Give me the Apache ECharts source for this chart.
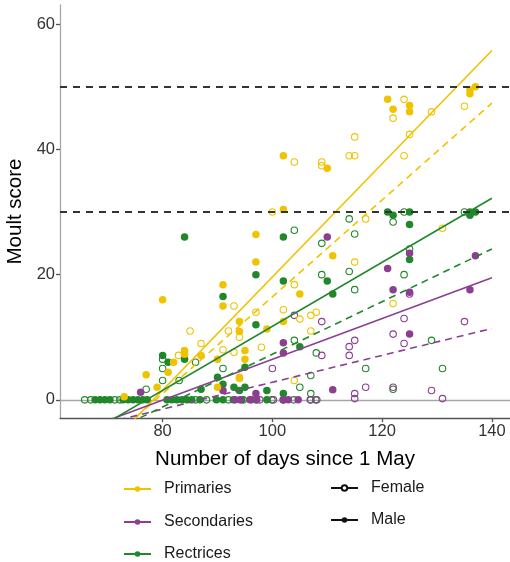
<!DOCTYPE html>
<html>
<head>
<meta charset="utf-8">
<script src="https://cdn.jsdelivr.net/npm/echarts@6/dist/echarts.min.js"></script>
<style>
  html, body { margin: 0; padding: 0; background: #fff; }
  #chart { width: 510px; height: 562px; }
</style>
</head>
<body>
<div id="chart"></div>
<script>
// Moult score against number of days since 1 May, by feather tract and sex.
// Each point is [day, score].

const primariesMale = [
  [73, 0.5], [77, 4], [79, 2], [80, 16], [81, 4.4], [82, 6], [84, 7.3], [84, 7.9],
  [87, 7.1], [90, 6.5], [90, 2], [91, 18.4], [91, 15], [94, 12.5], [94, 10.9],
  [95, 7.9], [95, 6.5], [94, 3.6], [97, 26.4], [97, 22], [99, 11.3], [102, 39],
  [102, 30.4], [102, 12.5], [105, 16.9], [110, 37], [111, 23], [121, 48],
  [122, 46.4], [125, 47], [125, 46], [136, 49.5], [136, 48.9], [137, 50]
];
const primariesFemale = [
  [82.9, 7.1], [85, 11], [87, 9], [91, 8], [92, 11], [93, 15], [93, 7.6], [94, 10],
  [94, 3.4], [97, 14], [98, 8.4], [100, 30], [102, 14.4], [104, 18.4], [104, 38],
  [104, 3.1], [105, 12.9], [107, 13.5], [107, 11], [108, 14], [109, 38], [109, 37.4],
  [114, 39], [115, 39], [115, 42], [115, 22], [117, 28.9], [122, 15.4], [122, 45],
  [124, 48], [124, 39], [125, 42.4], [129, 46], [131, 27.4], [135, 46.9]
];
const secondariesMale = [
  [93.2, 0], [94.1, 0], [95.9, 0], [97.1, 0], [102, 0], [102.9, 0], [104.7, 0],
  [76, 1.2], [91, 1.5], [97, 1], [102, 9.1], [102, 7.5], [110, 26], [111, 1.6],
  [121, 21], [122, 17.6], [125, 23.4], [125, 17.2], [125, 10.5], [136, 17.6], [137, 23]
];
const secondariesFemale = [
  [97.7, 0], [100.2, 0], [106.9, 0], [108.1, 0], [115, 0.2], [131, 0.2],
  [100, 5], [104, 13.5], [109, 12.5], [109, 7.1], [114, 8.5], [114, 7.1], [115, 9.5],
  [115, 1], [117, 2], [122, 10.5], [122, 2], [124, 13], [124, 9], [125, 16.9],
  [129, 1.5], [135, 12.5]
];
const rectricesMale = [
  [67.7, 0], [68.6, 0], [69.5, 0], [70.4, 0], [72.8, 0], [73.7, 0], [74.6, 0],
  [75.5, 0], [76.4, 0], [77.2, 0], [80.8, 0], [81.7, 0], [82.6, 0], [83.5, 0],
  [84.4, 0], [85.3, 0], [86.8, 0], [89.8, 0], [91, 0], [92.9, 0], [94.4, 0],
  [96.2, 0], [99, 0], [102, 0],
  [80, 7.1], [81, 6], [84, 6.5], [84, 26], [87, 1.7], [90, 3.6], [91, 2.5],
  [91, 16.5], [93, 2], [94, 1.5], [95, 2], [95, 5.2], [97, 12], [97, 20], [99, 1.5],
  [102, 1], [102, 19], [102, 26], [105, 8.5], [110, 19], [111, 16.9], [121, 30],
  [122, 29.5], [125, 30], [125, 28], [125, 22.4], [136, 30], [136, 29.5], [137, 30]
];
const rectricesFemale = [
  [65.8, 0], [66.9, 0], [71.3, 0], [72.2, 0], [86, 0], [88, 0], [92, 0], [94.7, 0],
  [97.1, 0], [99.9, 0], [102, 0], [103.9, 0], [107, 0], [107.9, 0],
  [77, 1.7], [80, 6.5], [80, 5], [80, 3.1], [83, 3.1], [86, 6], [91, 5], [104, 27.1],
  [104, 9.5], [105, 2], [107, 3.9], [107, 1], [108, 7.5], [109, 25], [109, 20],
  [114, 28.9], [114, 20.5], [115, 26.5], [115, 17.6], [117, 5], [122, 28.4],
  [122, 1.7], [124, 30], [124, 20], [125, 24.1], [129, 9.5], [131, 5], [135, 30]
];

// Fitted linear trends (solid: male, dashed: female), as end points
const primariesMaleFit     = [[72, -5.7], [140, 55.8]];
const primariesFemaleFit   = [[72, -5.2], [140, 47.4]];
const secondariesMaleFit   = [[70, -3.3], [140, 19.5]];
const secondariesFemaleFit = [[72, -3.2], [140, 11.4]];
const rectricesMaleFit     = [[70, -3.6], [140, 32.2]];
const rectricesFemaleFit   = [[72, -4.5], [140, 24.1]];

// Completion thresholds
const thresholds = [50, 30];

const xTicks = [80, 100, 120, 140];
const yTicks = [0, 20, 40, 60];

const tracts = ['Primaries', 'Secondaries', 'Rectrices'];
const sexes = ['Female', 'Male'];

const COL = { Primaries: '#EFC300', Secondaries: '#8C3F90', Rectrices: '#20882A' };
const FONT = 'Liberation Sans, Arial, sans-serif';

function pointsSeries(data, color, filled) {
  return {
    type: 'scatter',
    data: data,
    symbol: 'circle',
    symbolSize: filled ? 7.5 : 6.5,
    silent: true,
    itemStyle: filled
      ? { color: color, opacity: 1 }
      : { color: 'rgba(0,0,0,0)', borderColor: color, borderWidth: 1.1, opacity: 1 },
    z: 3
  };
}
function fitSeries(data, color, dashed) {
  return {
    type: 'line',
    data: data,
    symbol: 'none',
    silent: true,
    clip: true,
    lineStyle: { color: color, width: 1.6, type: dashed ? [7, 5] : 'solid' },
    z: 4
  };
}
function legendSeries(name, color, symbol) {
  return {
    name: name, type: 'line', data: [], symbol: symbol,
    itemStyle: { color: color }, lineStyle: { color: color, width: 1.6 }
  };
}

const series = [
  pointsSeries(rectricesFemale, COL.Rectrices, false),
  pointsSeries(secondariesFemale, COL.Secondaries, false),
  pointsSeries(primariesFemale, COL.Primaries, false),
  pointsSeries(rectricesMale, COL.Rectrices, true),
  pointsSeries(secondariesMale, COL.Secondaries, true),
  pointsSeries(primariesMale, COL.Primaries, true),
  fitSeries(primariesMaleFit, COL.Primaries, false),
  fitSeries(primariesFemaleFit, COL.Primaries, true),
  fitSeries(secondariesMaleFit, COL.Secondaries, false),
  fitSeries(secondariesFemaleFit, COL.Secondaries, true),
  fitSeries(rectricesMaleFit, COL.Rectrices, false),
  fitSeries(rectricesFemaleFit, COL.Rectrices, true),
  {
    type: 'line', data: [], silent: true,
    markLine: {
      silent: true, symbol: 'none', label: { show: false },
      lineStyle: { color: '#333', width: 2, type: [7, 6] },
      data: thresholds.map(v => ({ yAxis: v }))
    },
    z: 2
  },
  legendSeries(tracts[0], COL.Primaries, 'circle'),
  legendSeries(tracts[1], COL.Secondaries, 'circle'),
  legendSeries(tracts[2], COL.Rectrices, 'circle'),
  legendSeries(sexes[0], '#111', 'emptyCircle'),
  legendSeries(sexes[1], '#111', 'circle')
];

function oneLegend(name, left, top) {
  return {
    data: [name], left: left, top: top, orient: 'vertical',
    itemWidth: 27, itemHeight: 7, selectedMode: false,
    textStyle: { fontFamily: FONT, fontSize: 16, color: '#1a1a1a', padding: [0, 0, 0, 8] }
  };
}

const chart = echarts.init(document.getElementById('chart'), null, { renderer: 'canvas' });
chart.setOption({
  animation: false,
  backgroundColor: '#fff',
  grid: { left: 60, right: 0, top: 5, bottom: 144, containLabel: false, outerBoundsMode: 'none' },
  legend: [
    oneLegend(tracts[0], 118, 476),
    oneLegend(tracts[1], 118, 509),
    oneLegend(tracts[2], 118, 541),
    oneLegend(sexes[0], 325, 475),
    oneLegend(sexes[1], 325, 507)
  ],
  xAxis: [{
    type: 'value', min: 61.3, max: 143.3,
    name: 'Number of days since 1 May', nameLocation: 'middle', nameGap: 31,
    nameTextStyle: { fontFamily: FONT, fontSize: 20.5, color: '#000' },
    splitLine: { show: false },
    axisLine: { show: true, onZero: false, lineStyle: { color: '#555', width: 1.3 } },
    axisTick: { show: true, length: 4, customValues: xTicks, lineStyle: { color: '#555', width: 1.3 } },
    axisLabel: { customValues: xTicks, fontFamily: FONT, fontSize: 16.5, color: '#333', margin: 5 }
  }, {
    type: 'value', position: 'top', min: 61.3, max: 143.3,
    splitLine: { show: false },
    axisLine: { show: true, lineStyle: { color: '#a6a6a6', width: 1.3 } },
    axisTick: { show: false }, axisLabel: { show: false }
  }],
  yAxis: {
    type: 'value', min: -2.9, max: 63.07,
    name: 'Moult score', nameLocation: 'middle', nameGap: 29,
    nameTextStyle: { fontFamily: FONT, fontSize: 20.5, color: '#000' },
    splitLine: { show: false },
    axisLine: { show: true, onZero: false, lineStyle: { color: '#a6a6a6', width: 1.3 } },
    axisTick: { show: true, length: 4, customValues: yTicks, lineStyle: { color: '#555', width: 1.3 } },
    axisLabel: { customValues: yTicks, fontFamily: FONT, fontSize: 16.5, color: '#333', margin: 5 }
  },
  series: series
});
</script>
</body>
</html>
